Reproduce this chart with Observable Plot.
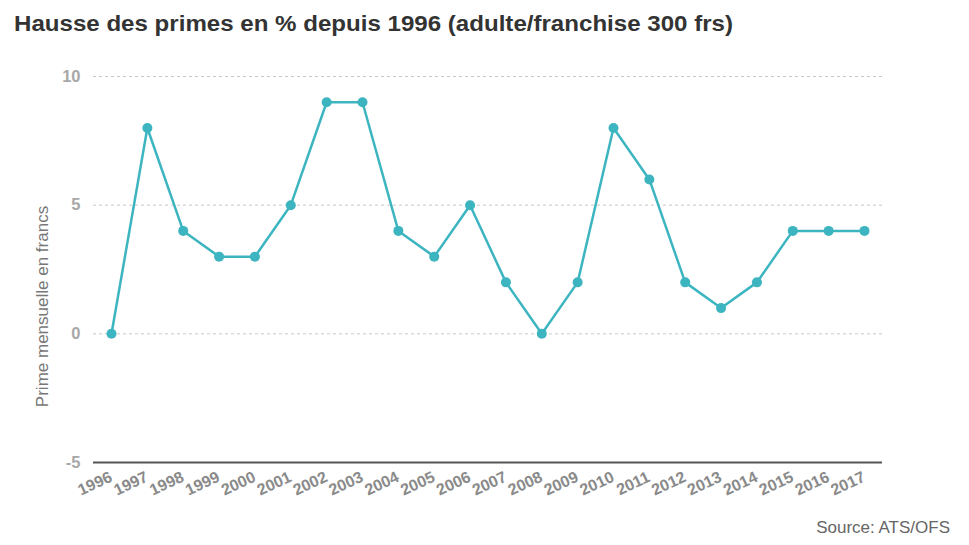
<!DOCTYPE html>
<html>
<head>
<meta charset="utf-8">
<script src="https://cdn.jsdelivr.net/npm/d3@7"></script>
<script src="https://cdn.jsdelivr.net/npm/@observablehq/plot@0.6"></script>
<style>
  body { margin: 0; background: #fff; font-family: "Liberation Sans", Arial, sans-serif; }
  #wrap { width: 969px; height: 545px; position: relative; overflow: hidden; }
  #title { position: absolute; left: 14px; top: 11px; font-size: 22px; font-weight: bold; color: #333; white-space: nowrap; transform: scaleX(1.095); transform-origin: left top; }
  #chart { position: absolute; left: 0; top: 50px; }
  #caption { position: absolute; right: 19px; top: 518px; font-size: 17px; color: #666; }
</style>
</head>
<body>
<div id="wrap">
  <div id="title">Hausse des primes en % depuis 1996 (adulte/franchise 300 frs)</div>
  <div id="chart"></div>
  <div id="caption">Source: ATS/OFS</div>
</div>
<script>
const years = [1996,1997,1998,1999,2000,2001,2002,2003,2004,2005,2006,2007,2008,2009,2010,2011,2012,2013,2014,2015,2016,2017];
const values = [0,8,4,3,3,5,9,9,4,3,5,2,0,2,8,6,2,1,2,4,4,4];
const yTicks = [-5,0,5,10];
const gridTicks = [0,5,10];

const data = years.map((y, i) => ({year: y, value: values[i]}));
const lineColor = "#3db5c0";

const chart = Plot.plot({
  width: 969,
  height: 450,
  marginLeft: 93,
  marginRight: 87,
  marginTop: 26,
  marginBottom: 38,
  style: {fontFamily: "'Liberation Sans', Arial, sans-serif", background: "transparent"},
  x: {domain: [1996, 2017], inset: 18, axis: null},
  y: {domain: [-5, 10], axis: null},
  marks: [
    Plot.ruleY(gridTicks, {stroke: "#c8c8c8", strokeDasharray: "3,3", strokeWidth: 1}),
    Plot.ruleY([-5], {stroke: "#555", strokeWidth: 2}),
    Plot.text(yTicks, {y: d => d, text: d => String(d), frameAnchor: "left", dx: -13, textAnchor: "end", fontSize: 16.5, fontWeight: "bold", fill: "#a8a8a8"}),
    Plot.text(["Prime mensuelle en francs"], {frameAnchor: "left", dx: -51, dy: 37, rotate: -90, fontSize: 17, fill: "#777", textAnchor: "middle"}),
    Plot.text(years, {x: d => d, y: () => -5, text: d => String(d), rotate: -25, textAnchor: "end", lineAnchor: "top", dx: -3, dy: 8, fontSize: 16, fontWeight: "bold", fill: "#8a8a8a"}),
    Plot.line(data, {x: "year", y: "value", stroke: lineColor, strokeWidth: 2.5}),
    Plot.dot(data, {x: "year", y: "value", r: 5, fill: lineColor, stroke: "none"})
  ]
});
document.getElementById("chart").appendChild(chart);
</script>
</body>
</html>
